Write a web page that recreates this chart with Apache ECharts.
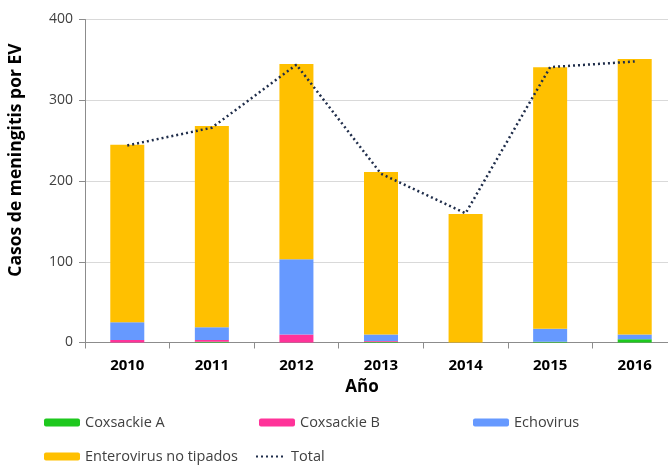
<!DOCTYPE html>
<html>
<head>
<meta charset="utf-8">
<script src="https://cdn.jsdelivr.net/npm/echarts@6/dist/echarts.min.js"></script>
<style>
html,body{margin:0;padding:0;background:#fff;}
#chart{width:668px;height:465px;}
</style>
</head>
<body>
<div id="chart"></div>
<script>
const years = ['2010','2011','2012','2013','2014','2015','2016'];
const coxsackieA = [0, 1, 0, 1, 0, 1, 4];
const coxsackieB = [3, 2, 10, 1, 0, 0, 0];
const echovirus = [22, 16, 93, 8, 0, 16, 6];
const enterovirusNoTipados = [220, 249, 242, 201, 159, 324, 341];
const total = [244, 266, 344, 209, 160, 341, 348];
const yTicks = [0, 100, 200, 300, 400];

const font = 'Open Sans';
const chart = echarts.init(document.getElementById('chart'));

function barSeries(name, data, color) {
  return {
    name: name, type: 'bar', stack: 'ev', data: data, barWidth: 34,
    itemStyle: { color: color }, emphasis: { disabled: true }
  };
}

function legendAt(name, left, top) {
  return {
    data: [name], left: left, top: top, padding: 0,
    itemWidth: 36, itemHeight: 8, itemGap: 4,
    textStyle: { fontFamily: font, fontSize: 14.5, color: '#404040' },
    selectedMode: false
  };
}

chart.setOption({
  animation: false,
  backgroundColor: '#ffffff',
  grid: { left: 85, width: 592, top: 19.5, height: 323, containLabel: false, outerBoundsMode: 'none' },
  legend: [
    legendAt('Coxsackie A', 44, 415),
    legendAt('Coxsackie B', 259, 415),
    legendAt('Echovirus', 473, 415),
    legendAt('Enterovirus no tipados', 44, 449),
    Object.assign(legendAt('Total', 255, 449), { itemWidth: 30, itemStyle: { opacity: 0 } })
  ],
  xAxis: {
    type: 'category', data: years,
    name: 'Año', nameLocation: 'middle', nameGap: 36,
    nameTextStyle: { fontFamily: font, fontSize: 17, fontWeight: 'bold', color: '#000', padding: [0, 38, 0, 0] },
    axisLine: { lineStyle: { color: '#8c8c8c' } },
    axisTick: { show: true, length: 6, lineStyle: { color: '#8c8c8c' } },
    axisLabel: { fontFamily: font, fontSize: 15, fontWeight: 'bold', color: '#000', margin: 16 }
  },
  yAxis: {
    type: 'value', min: yTicks[0], max: yTicks[yTicks.length - 1], interval: 100,
    name: 'Casos de meningitis por EV', nameLocation: 'middle', nameGap: 60,
    nameTextStyle: { fontFamily: font, fontSize: 17.5, fontWeight: 'bold', color: '#000', padding: [0, 0, 0, 42] },
    axisLine: { show: true, lineStyle: { color: '#8c8c8c' } },
    axisTick: { show: true, length: 6, lineStyle: { color: '#8c8c8c' } },
    axisLabel: { fontFamily: font, fontSize: 14, color: '#404040', margin: 12 },
    splitLine: { lineStyle: { color: '#d9d9d9' } }
  },
  series: [
    barSeries('Coxsackie A', coxsackieA, '#1ec81e'),
    barSeries('Coxsackie B', coxsackieB, '#ff3399'),
    barSeries('Echovirus', echovirus, '#6699ff'),
    barSeries('Enterovirus no tipados', enterovirusNoTipados, '#ffc000'),
    {
      name: 'Total', type: 'line', data: total, symbol: 'none',
      lineStyle: { color: '#1f2d4a', width: 2.5, type: [2, 3] },
      itemStyle: { color: '#1f2d4a' },
      emphasis: { disabled: true }, z: 5
    }
  ]
});
</script>
</body>
</html>
